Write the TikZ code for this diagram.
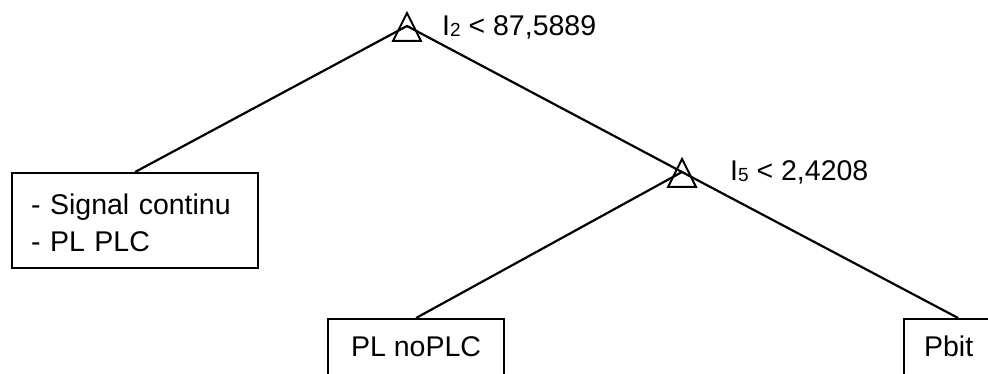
\documentclass[tikz,border=0pt]{standalone}
\usepackage{fontspec}
\setmainfont{Liberation Sans}
\usetikzlibrary{calc}
\newcommand{\idx}[1]{\raisebox{-1pt}{\fontsize{19}{19}\selectfont #1}}

\begin{document}
\begin{tikzpicture}[x=1pt,y=-1pt,every node/.style={font=\fontsize{28.5}{37}\selectfont},
  leaf/.style={draw,line width=2.2pt,inner sep=0pt,anchor=north west},
  edge/.style={line width=2.2pt},
  split/.style={draw,line width=2pt}]
\clip (0,0) rectangle (988,374);
\coordinate (s1) at (407,26);
\coordinate (s2) at (682,172);
\foreach \s in {s1,s2}
  \draw[split] ($(\s)+(0,-13)$) -- ($(\s)+(-14,15)$) -- ($(\s)+(14,15)$) -- cycle;
\node[anchor=base west,inner sep=0pt] (t1) at (442,36) {I\idx{2} < 87,5889};
\node[anchor=base west,inner sep=0pt] (t2) at (730,181) {I\idx{5} < 2,4208};
\node[leaf,minimum width=246pt,minimum height=95pt,inner xsep=19pt,text width=208pt,align=left] (sig) at (11,172) {\rule{0pt}{26pt}- Signal continu\\- PL PLC};
\node[leaf,minimum width=176pt,text height=37pt,text depth=40pt] (nop) at (327,318) {PL noPLC};
\node[leaf,inner xsep=20pt,text width=68pt,align=left,text height=37pt,text depth=40pt] (pb) at (903,318) {Pbit};
\draw[edge] (sig.north) -- (s1) -- (s2) -- (pb.north);
\draw[edge] (s2) -- (nop.north);
\end{tikzpicture}
\end{document}
